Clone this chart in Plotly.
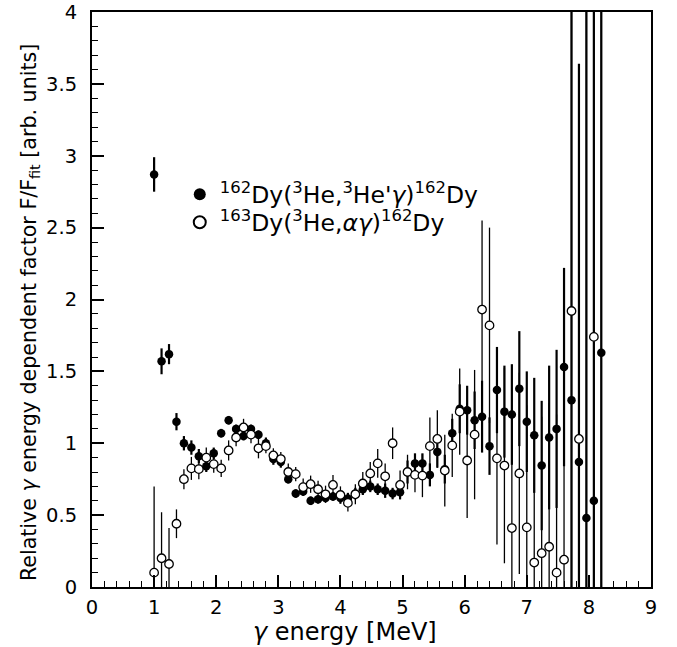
import plotly.graph_objects as go

# gamma energy bin centres [MeV]
energy = [1.00, 1.12, 1.24, 1.36, 1.48, 1.60, 1.72, 1.84, 1.96, 2.08,
          2.20, 2.32, 2.44, 2.56, 2.68, 2.80, 2.92, 3.04, 3.16, 3.28,
          3.40, 3.52, 3.64, 3.76, 3.88, 4.00, 4.12, 4.24, 4.36, 4.48,
          4.60, 4.72, 4.84, 4.96, 5.08, 5.20, 5.32, 5.44, 5.56, 5.68,
          5.80, 5.92, 6.04, 6.16, 6.28, 6.40, 6.52, 6.64, 6.76, 6.88,
          7.00, 7.12, 7.24, 7.36, 7.48, 7.60, 7.72, 7.84, 7.96, 8.08,
          8.20]

# 162Dy(3He,3He'g)162Dy  (filled circles)
inel_val = [2.87, 1.57, 1.62, 1.15, 1.00, 0.97, 0.91, 0.84, 0.93, 1.07,
            1.16, 1.10, 1.05, 1.10, 1.06, 1.00, 0.89, 0.87, 0.75, 0.65,
            0.665, 0.60, 0.61, 0.62, 0.63, 0.62, 0.615, 0.65, 0.68, 0.70,
            0.68, 0.67, 0.65, 0.66, 0.80, 0.86, 0.86, 0.78, 0.94, 0.82,
            1.07, 1.24, 1.23, 1.16, 1.185, 0.98, 1.37, 1.22, 1.20, 1.38,
            1.15, 1.055, 0.845, 1.04, 1.10, 1.53, 1.30, 0.87, 0.48, 0.60,
            1.63]
inel_err = [0.12, 0.09, 0.07, 0.06, 0.05, 0.05, 0.05, 0.04, 0.04, 0.03,
            0.03, 0.03, 0.03, 0.03, 0.03, 0.04, 0.04, 0.04, 0.03, 0.03,
            0.03, 0.03, 0.03, 0.03, 0.03, 0.04, 0.04, 0.04, 0.04, 0.04,
            0.04, 0.05, 0.04, 0.05, 0.08, 0.07, 0.07, 0.08, 0.11, 0.10,
            0.10, 0.17, 0.17, 0.20, 0.25, 0.20, 0.30, 0.32, 0.35, 0.40,
            0.35, 0.40, 0.45, 0.50, 0.55, 0.69, 2.90, 2.77, 3.60, 3.50,
            2.80]

# 163Dy(3He,alpha g)162Dy  (open circles)
pick_val = [0.10, 0.20, 0.16, 0.44, 0.75, 0.825, 0.82, 0.90, 0.855, 0.825,
            0.95, 1.04, 1.11, 1.06, 0.965, 0.98, 0.915, 0.89, 0.80, 0.785,
            0.695, 0.715, 0.68, 0.645, 0.71, 0.64, 0.585, 0.645, 0.72, 0.79,
            0.86, 0.77, 1.00, 0.71, 0.80, 0.78, 0.775, 0.98, 1.03, 0.81,
            0.985, 1.22, 0.88, 1.06, 1.93, 1.82, 0.895, 0.845, 0.41, 0.79,
            0.415, 0.17, 0.235, 0.28, 0.10, 0.19, 1.92, 1.03, -0.40, 1.74,
            -0.50]
pick_err = [0.60, 0.32, 0.25, 0.10, 0.07, 0.08, 0.07, 0.07, 0.06, 0.06,
            0.07, 0.06, 0.06, 0.06, 0.07, 0.05, 0.05, 0.05, 0.06, 0.05,
            0.06, 0.06, 0.06, 0.06, 0.07, 0.06, 0.06, 0.07, 0.08, 0.08,
            0.10, 0.09, 0.11, 0.10, 0.12, 0.12, 0.15, 0.20, 0.20, 0.25,
            0.22, 0.30, 0.40, 0.45, 0.62, 0.68, 0.60, 0.68, 0.80, 0.70,
            0.85, 0.90, 0.95, 1.00, 1.10, 2.00, 2.60, 2.50, 4.50, 2.80,
            4.60]

x_ticks = [0, 1, 2, 3, 4, 5, 6, 7, 8, 9]
y_ticks = [0, 0.5, 1, 1.5, 2, 2.5, 3, 3.5, 4]

FONT = "DejaVu Sans"

fig = go.Figure()

fig.add_trace(go.Scatter(
    x=energy, y=inel_val, mode="markers",
    name="<sup>162</sup>Dy(<sup>3</sup>He,<sup>3</sup>He'<i>γ</i>)<sup>162</sup>Dy",
    marker=dict(symbol="circle", size=8.5, color="black",
                line=dict(color="black", width=0)),
    error_y=dict(type="data", array=inel_err, visible=True,
                 color="black", thickness=2.2, width=0),
    cliponaxis=True, legend="legend",
))

fig.add_trace(go.Scatter(
    x=energy, y=pick_val, mode="markers",
    name="<sup>163</sup>Dy(<sup>3</sup>He,<i>αγ</i>)<sup>162</sup>Dy",
    marker=dict(symbol="circle", size=8.5, color="white",
                line=dict(color="black", width=1.3)),
    error_y=dict(type="data", array=pick_err, visible=True,
                 color="black", thickness=1.3, width=0),
    cliponaxis=True, legend="legend2",
))

axis_common = dict(
    showgrid=False, zeroline=False, automargin=False,
    showline=True, linecolor="black", linewidth=2, mirror=True,
    ticks="inside", tickcolor="black", tickwidth=1.5,
    ticklabeloverflow="allow",
    tickfont=dict(family=FONT, size=19.5, color="black"),
)

fig.update_xaxes(
    range=[0, 9], tickvals=x_ticks, ticklen=12,
    minor=dict(dtick=0.2, ticks="inside", ticklen=6, tickcolor="black",
               tickwidth=1.3, showgrid=False),
    ticklabelstandoff=2,
    **axis_common,
)
fig.update_yaxes(
    range=[0, 4], tickvals=y_ticks, ticklen=12,
    minor=dict(dtick=0.1, ticks="inside", ticklen=6, tickcolor="black",
               tickwidth=1.3, showgrid=False),
    ticklabelstandoff=9,
    **axis_common,
)

fig.add_annotation(
    text="<i>γ</i> energy [MeV]", xref="paper", yref="paper",
    x=0.4526, y=-0.078, xanchor="center", yanchor="middle",
    showarrow=False, font=dict(family=FONT, size=24, color="black"),
)
fig.add_annotation(
    text="Relative <i>γ</i> energy dependent factor F/F<sub>fit</sub> [arb. units]",
    xref="paper", yref="paper", x=-0.111, y=0.478,
    xanchor="center", yanchor="middle", textangle=-90,
    showarrow=False, font=dict(family=FONT, size=20.6, color="black"),
)

legend_style = dict(xanchor="left", yanchor="top",
                    bgcolor="rgba(0,0,0,0)", borderwidth=0,
                    font=dict(family=FONT, size=23.5, color="black"),
                    itemsizing="constant")

fig.update_layout(
    width=677, height=647,
    margin=dict(l=92, r=26, t=12, b=60),
    paper_bgcolor="white", plot_bgcolor="white",
    showlegend=True,
    legend=dict(x=0.157, y=0.721, **legend_style),
    legend2=dict(x=0.157, y=0.6723, **legend_style),
    font=dict(family=FONT, color="black"),
)

fig.write_html("out.html",
               config={"displayModeBar": False},
               post_script="document.body.style.margin='0';")
